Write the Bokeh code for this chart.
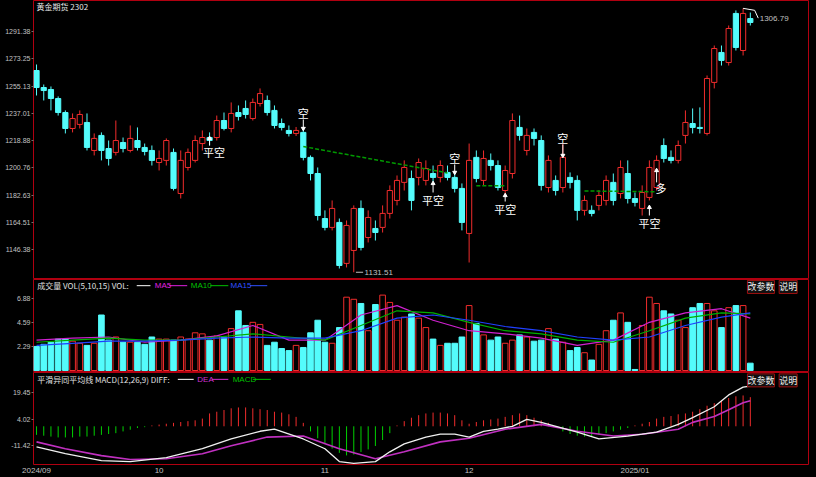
from bokeh.plotting import figure
from bokeh.layouts import column
from bokeh.models import Range1d, FixedTicker, Label
from bokeh.core.properties import value
from bokeh.embed import file_html
from bokeh.resources import INLINE

# ---------------- data ----------------
title_text = "黄金期货 2302"

opens = [1265.5,1254.2,1252.9,1246.9,1237.6,1227.0,1229.7,1231.0,1212.4,1222.4,
         1213.7,1211.1,1217.7,1212.4,1219.0,1214.4,1212.4,1204.4,1205.8,1211.1,
         1183.8,1201.1,1205.8,1217.0,1221.0,1221.0,1232.3,1227.0,1237.6,1240.3,
         1233.6,1243.6,1245.6,1239.0,1230.3,1225.7,1223.7,1224.4,1207.8,1197.1,
         1167.2,1161.3,1164.6,1137.4,1146.0,1173.9,1154.6,1160.6,1161.3,1170.6,
         1179.2,1191.2,1193.8,1194.5,1192.5,1197.1,1194.5,1197.8,1194.5,1187.2,
         1157.3,1207.8,1192.5,1205.8,1202.4,1185.8,1197.1,1227.7,1212.4,1224.4,
         1219.0,1187.8,1192.5,1187.8,1194.5,1192.5,1172.6,1172.6,1175.9,1179.2,
         1191.2,1183.8,1197.1,1180.5,1173.9,1181.2,1187.8,1215.7,1207.8,1205.8,
         1222.4,1230.3,1227.7,1223.7,1257.6,1277.5,1270.8,1303.4,1278.8,1300.0]
highs = [1269.5,1256.2,1254.9,1248.3,1239.0,1237.0,1239.0,1237.0,1223.7,1224.4,
         1219.0,1232.3,1221.0,1229.0,1227.7,1217.0,1215.7,1212.4,1220.4,1213.7,
         1212.4,1213.7,1222.4,1225.7,1224.4,1235.6,1237.6,1244.3,1242.3,1245.6,
         1246.9,1253.6,1248.9,1242.3,1233.6,1229.0,1228.0,1227.0,1209.1,1201.1,
         1172.6,1179.2,1167.2,1165.9,1175.9,1179.2,1172.6,1165.9,1175.9,1189.2,
         1195.8,1205.8,1199.1,1207.1,1205.8,1202.4,1205.8,1202.4,1197.8,1190.5,
         1217.0,1212.4,1212.4,1210.4,1205.8,1202.4,1237.0,1235.6,1227.0,1227.0,
         1222.4,1209.1,1195.8,1217.0,1197.8,1195.8,1182.5,1175.9,1186.0,1195.8,
         1197.1,1205.8,1205.8,1184.5,1189.2,1205.8,1209.1,1220.4,1212.4,1219.0,
         1239.0,1240.3,1241.0,1262.2,1282.1,1282.1,1295.4,1305.4,1306.79,1304.0]
lows = [1248.9,1245.6,1239.0,1235.6,1223.7,1224.4,1227.0,1212.4,1209.1,1205.8,
        1202.4,1209.1,1211.1,1211.1,1212.4,1209.1,1202.4,1199.1,1202.4,1185.8,
        1180.5,1199.1,1204.4,1212.4,1215.7,1219.0,1225.7,1224.4,1232.3,1233.6,
        1232.3,1241.6,1235.6,1227.0,1225.7,1221.7,1222.0,1205.8,1192.5,1165.9,
        1159.3,1159.3,1134.0,1134.7,1131.51,1146.0,1151.3,1152.6,1157.9,1167.2,
        1175.9,1185.8,1172.6,1189.2,1189.2,1190.5,1191.2,1192.5,1184.5,1159.3,
        1138.0,1191.2,1189.2,1199.1,1185.8,1182.5,1193.8,1219.0,1209.1,1215.7,
        1185.8,1184.5,1182.5,1184.5,1187.2,1165.9,1169.2,1168.6,1172.6,1175.9,
        1175.9,1180.5,1177.2,1175.2,1169.2,1179.2,1185.8,1204.4,1203.8,1203.8,
        1217.0,1223.7,1223.7,1222.4,1253.6,1268.8,1268.8,1278.8,1275.5,1295.4]
closes = [1254.2,1252.2,1246.9,1237.6,1227.0,1233.6,1236.3,1214.4,1220.4,1212.4,
          1207.1,1219.0,1213.7,1220.4,1214.4,1211.7,1205.8,1207.1,1219.0,1187.2,
          1205.8,1211.1,1219.0,1221.0,1219.0,1232.3,1227.0,1237.0,1235.0,1236.3,
          1244.3,1250.2,1237.6,1229.0,1227.7,1223.7,1225.7,1207.8,1197.1,1169.2,
          1161.3,1173.9,1136.0,1162.6,1173.9,1148.0,1167.9,1157.9,1170.6,1185.8,
          1192.5,1201.1,1179.2,1204.4,1200.4,1194.5,1202.4,1194.5,1187.2,1164.6,
          1205.8,1193.8,1207.1,1202.4,1187.8,1199.1,1232.3,1222.4,1222.4,1220.4,
          1189.2,1205.8,1185.8,1207.8,1191.2,1172.6,1179.2,1170.6,1182.5,1192.5,
          1179.2,1201.1,1180.5,1177.9,1184.5,1201.1,1205.8,1207.1,1205.8,1215.7,
          1231.0,1227.7,1227.0,1260.2,1280.1,1272.2,1293.4,1280.8,1303.4,1297.4]

volumes = [2.3,2.5,2.7,3.0,3.0,2.8,2.6,2.4,2.6,5.3,
           2.9,3.2,2.7,2.7,2.7,2.5,3.2,3.0,3.0,2.9,
           3.2,3.0,3.6,3.5,2.9,3.3,3.2,4.0,5.7,4.3,
           4.6,4.4,2.4,2.7,2.1,1.9,2.4,2.2,3.6,4.8,
           2.7,2.6,4.1,7.0,6.8,6.4,3.8,6.3,7.2,6.5,
           4.8,5.1,5.4,5.0,4.1,3.0,2.4,2.6,2.6,3.2,
           6.2,4.5,3.4,2.9,3.2,2.6,2.9,3.4,3.2,2.8,
           2.9,4.0,3.0,2.7,1.9,2.2,1.7,1.0,2.5,3.8,
           4.8,5.5,4.6,0.1,4.3,7.0,6.4,5.7,5.4,4.8,
           4.1,6.0,6.4,6.4,5.7,4.1,6.0,6.2,6.2,0.7]

ma_idx = [0,5,10,15,20,25,30,35,40,45,50,55,60,65,70,75,80,85,90,95,99]
vol_ma5 = [2.9,3.1,3.2,2.7,2.9,3.3,4.3,2.9,2.9,5.3,6.2,4.8,3.8,3.5,3.1,2.4,2.9,4.6,5.5,5.9,5.0]
vol_ma10 = [2.7,2.9,3.1,2.9,2.9,3.2,3.5,3.2,2.9,4.3,5.7,5.5,4.6,3.8,3.5,2.9,2.7,3.8,5.0,5.5,5.4]
vol_ma15 = [2.4,2.6,2.8,2.8,2.9,3.1,3.2,3.1,3.1,3.8,5.0,5.3,4.8,4.2,3.8,3.2,2.9,3.2,4.3,5.1,5.5]

diff_idx = [0,4,9,13,18,23,27,31,33,37,40,42,44,47,49,51,54,56,58,60,62,64,66,68,70,75,78,82,86,89,91,94,96,98,99]
diff_val = [-12.0,-16.0,-20.0,-20.6,-18.3,-13.1,-7.4,-2.9,-1.7,-7.4,-13.1,-20.6,-21.7,-20.6,-14.9,
            -10.3,-6.3,-4.6,-4.6,-6.3,-3.0,-1.7,0.0,4.0,2.3,-3.4,-7.4,-5.7,-3.4,1.1,5.1,11.4,18.3,22.9,23.4]
dea_idx = [0,4,9,13,18,23,27,32,37,42,47,51,56,60,65,70,75,80,84,89,91,94,96,98,99]
dea_val = [-9.1,-13.1,-17.1,-19.4,-18.9,-16.0,-11.4,-6.3,-5.7,-13.1,-18.9,-14.9,-9.1,-7.0,-1.7,
           1.1,-2.9,-5.7,-4.6,-1.7,2.3,5.7,9.7,13.7,14.9]
macd_hist = [-5.0,-5.5,-6.0,-6.5,-6.5,-6.5,-6.0,-6.0,-5.5,-5.0,-4.5,-4.0,-3.0,
             -2.0,-1.0,-0.5,0.5,1.0,1.5,2.0,2.5,3.0,3.5,4.5,
             7.5,8.5,9.5,10.5,11.0,11.0,10.5,10.0,9.5,8.5,8.0,7.0,5.5,
             2.0,-3.0,-7.0,-10.0,-13.0,-15.5,-17.0,-16.5,-15.0,-13.5,-11.5,-8.0,-4.0,
             0.5,3.0,5.0,6.5,7.5,8.0,8.0,7.5,6.5,3.5,1.5,2.5,3.5,4.0,4.5,5.5,6.5,7.5,6.5,5.0,3.5,2.0,
             -1.0,-3.0,-4.5,-5.5,-6.0,-6.0,-5.0,-4.0,-3.0,-2.0,-1.0,
             0.5,1.5,2.5,4.5,5.5,6.0,7.0,7.5,8.5,10.0,12.0,13.5,15.0,16.5,17.5,18.0,17.0]

stop_x = [[37, 57], [61, 65], [76, 86]]
stop_y = [[1215.0, 1197.5], [1189.0, 1189.0], [1185.5, 1185.0]]

mark_idx = [37, 24.6, 55, 58, 65, 73, 85, 86.6]
mark_y = [1237.6, 1211.1, 1179.2, 1207.1, 1173.3, 1221.0, 1163.9, 1187.2]
mark_text = ["空", "平空", "平空", "空", "平空", "空", "平空", "多"]
arrow_idx = [37, 24, 55, 58, 65, 73, 85, 86]
arrow_from = [1233.0, 1215.7, 1184.5, 1203.1, 1178.5, 1216.4, 1169.2, 1191.2]
arrow_to = [1227.0, 1220.4, 1190.5, 1197.8, 1182.5, 1209.1, 1174.6, 1199.1]

low_text = "1131.51"
high_text = "1306.79"

price_ticks = [1291.38, 1273.25, 1255.13, 1237.01, 1218.88, 1200.76, 1182.63, 1164.51, 1146.38]
vol_ticks = [2.29, 4.59, 6.88]
macd_ticks = [19.45, 4.02, -11.42]
date_ticks = [0, 17, 40, 60, 83]
date_labels = ["2024/09", "10", "11", "12", "2025/01"]

vol_header = "成交量 VOL(5,10,15) VOL:"
macd_header = "平滑异同平均线 MACD(12,26,9) DIFF:"

# ---------------- style ----------------
RED = "#f02c2c"
CYAN = "#54fcfc"
GREEN = "#00d000"
BORDER = "#b00010"
AXT = "#c0c0c0"
CJK = "Noto Sans CJK SC"
X_RANGE = (-0.42, 107.07)

N = len(closes)
idx = list(range(N))
up = [i for i in idx if closes[i] >= opens[i]]
dn = [i for i in idx if closes[i] < opens[i]]


def make_fig(h, yr, show_x=False):
    f = figure(width=816, height=h, x_range=Range1d(*X_RANGE), y_range=Range1d(*yr),
               output_backend="svg", toolbar_location=None,
               min_border_left=33, min_border_right=8, min_border_top=0, min_border_bottom=0,
               background_fill_color="black", border_fill_color="black",
               outline_line_color=BORDER, outline_line_width=1)
    f.grid.visible = False
    f.xaxis.visible = show_x
    return f


def style_y(f, ticks, labels):
    ax = f.yaxis[0]
    ax.ticker = FixedTicker(ticks=ticks)
    ax.major_label_overrides = {t: l for t, l in zip(ticks, labels)}
    ax.axis_line_color = None
    ax.major_tick_line_color = "#707070"
    ax.major_tick_out = 2
    ax.major_tick_in = 0
    ax.minor_tick_line_color = None
    ax.minor_tick_out = 0
    ax.minor_tick_in = 0
    ax.major_label_text_color = AXT
    ax.major_label_text_font = "Liberation Sans"
    ax.major_label_text_font_size = "7px"
    ax.major_label_standoff = 1


# ---------------- price panel ----------------
p1 = make_fig(279, (1126.7, 1312.0))
style_y(p1, price_ticks, [f"{t:.2f}" for t in price_ticks])

p1.segment(x0=dn, y0=[highs[i] for i in dn], x1=dn, y1=[lows[i] for i in dn], line_color=CYAN, line_width=1)
p1.segment(x0=up, y0=[highs[i] for i in up], x1=up, y1=[lows[i] for i in up], line_color=RED, line_width=1)
p1.vbar(x=dn, width=0.72, top=[opens[i] for i in dn], bottom=[closes[i] for i in dn],
        fill_color=CYAN, line_color=CYAN)
p1.vbar(x=up, width=0.72, top=[closes[i] for i in up], bottom=[opens[i] for i in up],
        fill_color="black", line_color=RED, line_width=1)

p1.multi_line(xs=stop_x, ys=stop_y, line_color="#009a00", line_dash="4 2", line_width=1.5)

au = [k for k in range(len(arrow_idx)) if arrow_to[k] > arrow_from[k]]
ad = [k for k in range(len(arrow_idx)) if arrow_to[k] <= arrow_from[k]]
p1.segment(x0=arrow_idx, y0=arrow_from, x1=arrow_idx, y1=arrow_to, line_color="white", line_width=1)
p1.scatter(x=[arrow_idx[k] for k in au], y=[arrow_to[k] for k in au], marker="triangle",
           size=4, color="white")
p1.scatter(x=[arrow_idx[k] for k in ad], y=[arrow_to[k] for k in ad], marker="inverted_triangle",
           size=4, color="white")
p1.text(x=mark_idx, y=mark_y, text=mark_text, text_color="white", text_font=value(CJK),
        text_font_size="11px", text_align="center", text_baseline="middle")

ilow = lows.index(min(lows))
ihigh = highs.index(max(highs))
p1.segment(x0=[ilow + 0.3], y0=[lows[ilow]], x1=[ilow + 1.3], y1=[lows[ilow]], line_color=AXT)
p1.text(x=[ilow + 1.5], y=[lows[ilow]], text=[low_text], text_color=AXT,
        text_font=value("Liberation Sans"), text_font_size="8px", text_baseline="middle")
p1.line(x=[ihigh, ihigh + 1.6, ihigh + 2.1], y=[highs[ihigh], highs[ihigh] - 1.3, highs[ihigh] - 6.5],
        line_color="white", line_width=1)
p1.text(x=[ihigh + 2.3], y=[highs[ihigh] - 6.5], text=[high_text], text_color=AXT,
        text_font=value("Liberation Sans"), text_font_size="8px", text_baseline="middle")

p1.add_layout(Label(x=0.0, y=1308.3, text=title_text, text_color="#e8e8e8", text_font=CJK,
                    text_font_size="8px", text_baseline="middle"))

# ---------------- volume panel ----------------
p2 = make_fig(93, (-0.19, 8.69))
style_y(p2, vol_ticks, [f"{t:.2f}" for t in vol_ticks])
p2.vbar(x=dn, width=0.78, top=[volumes[i] for i in dn], bottom=0, fill_color=CYAN, line_color=CYAN)
p2.vbar(x=up, width=0.78, top=[volumes[i] for i in up], bottom=0, fill_color="black",
        line_color=RED, line_width=1)
p2.line(ma_idx, vol_ma5, line_color="#d020d0", line_width=1.2)
p2.line(ma_idx, vol_ma10, line_color="#00b000", line_width=1.2)
p2.line(ma_idx, vol_ma15, line_color="#2040ff", line_width=1.2)

hy2 = 8.1
p2.add_layout(Label(x=0.1, y=hy2, text=vol_header, text_color="#e0e0e0", text_font=CJK,
                    text_font_size="8px", text_baseline="middle"))
p2.segment(x0=[13.9], y0=[hy2], x1=[15.8], y1=[hy2], line_color="white")
p2.add_layout(Label(x=16.4, y=hy2, text="MA5", text_color="#e020e0", text_font="Liberation Sans",
                    text_font_size="8px", text_baseline="middle"))
p2.segment(x0=[18.4], y0=[hy2], x1=[20.9], y1=[hy2], line_color="#e020e0")
p2.add_layout(Label(x=21.4, y=hy2, text="MA10", text_color="#00c000", text_font="Liberation Sans",
                    text_font_size="8px", text_baseline="middle"))
p2.segment(x0=[24.1], y0=[hy2], x1=[26.6], y1=[hy2], line_color="#00c000")
p2.add_layout(Label(x=26.9, y=hy2, text="MA15", text_color="#3050ff", text_font="Liberation Sans",
                    text_font_size="8px", text_baseline="middle"))
p2.segment(x0=[29.6], y0=[hy2], x1=[32.0], y1=[hy2], line_color="#3050ff")

# ---------------- MACD panel ----------------
p3 = make_fig(105, (-22.3, 31.4), show_x=True)
style_y(p3, macd_ticks, [f"{t:.2f}" for t in macd_ticks])
hp = [i for i in idx if macd_hist[i] >= 0]
hn = [i for i in idx if macd_hist[i] < 0]
p3.segment(x0=hp, y0=0, x1=hp, y1=[macd_hist[i] for i in hp], line_color=RED, line_width=1)
p3.segment(x0=hn, y0=0, x1=hn, y1=[macd_hist[i] for i in hn], line_color=GREEN, line_width=1)
p3.line(dea_idx, dea_val, line_color="#c030c0", line_width=1.6)
p3.line(diff_idx, diff_val, line_color="#f0f0f0", line_width=1.3)

hy3 = 27.4
p3.add_layout(Label(x=0.1, y=hy3, text=macd_header, text_color="#e0e0e0", text_font=CJK,
                    text_font_size="8px", text_baseline="middle"))
p3.segment(x0=[19.6], y0=[hy3], x1=[21.8], y1=[hy3], line_color="white")
p3.add_layout(Label(x=22.3, y=hy3, text="DEA", text_color="#d030d0", text_font="Liberation Sans",
                    text_font_size="8px", text_baseline="middle"))
p3.segment(x0=[24.3], y0=[hy3], x1=[26.6], y1=[hy3], line_color="#d030d0")
p3.add_layout(Label(x=27.2, y=hy3, text="MACD", text_color="#00c000", text_font="Liberation Sans",
                    text_font_size="8px", text_baseline="middle"))
p3.segment(x0=[30.0], y0=[hy3], x1=[32.5], y1=[hy3], line_color="#00c000")

xa = p3.xaxis[0]
xa.ticker = FixedTicker(ticks=date_ticks)
xa.major_label_overrides = {t: l for t, l in zip(date_ticks, date_labels)}
xa.axis_line_color = None
xa.major_tick_line_color = None
xa.minor_tick_line_color = None
xa.major_tick_out = 0
xa.major_tick_in = 0
xa.minor_tick_out = 0
xa.minor_tick_in = 0
xa.major_label_text_color = AXT
xa.major_label_text_font = "Liberation Sans"
xa.major_label_text_font_size = "8px"
xa.major_label_text_align = "left"
xa.major_label_standoff = 1

# buttons
for fig, ytop in ((p2, 8.6), (p3, 30.6)):
    fig.add_layout(Label(x=98.6, y=ytop, text="改参数", text_color="#f0f0f0", text_font=CJK,
                         text_font_size="9px", text_baseline="top",
                         border_line_color="#a01010", background_fill_color="#101010"))
    fig.add_layout(Label(x=103.0, y=ytop, text="说明", text_color="#f0f0f0", text_font=CJK,
                         text_font_size="9px", text_baseline="top",
                         border_line_color="#a01010", background_fill_color="#101010"))

layout = column(p1, p2, p3, spacing=0)
html = file_html(layout, INLINE)
html = html.replace("<head>", "<head><style>html,body{background:#000000;}</style>", 1)
open("out.html", "w").write(html)
